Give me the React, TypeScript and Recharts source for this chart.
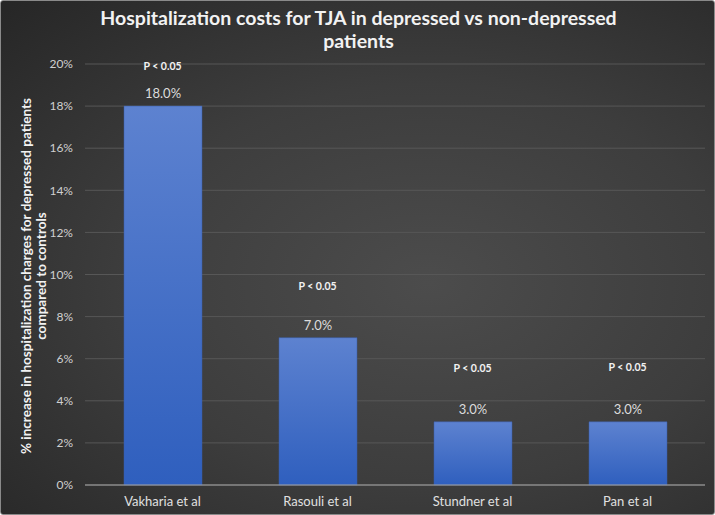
import React from "react";
import {
  ComposedChart,
  Bar,
  Line,
  XAxis,
  YAxis,
  CartesianGrid,
  LabelList,
} from "recharts";

const studies = ["Vakharia et al", "Rasouli et al", "Stundner et al", "Pan et al"];
const increases = [18, 7, 3, 3];
const pValues = ["P < 0.05", "P < 0.05", "P < 0.05", "P < 0.05"];
// where the hand placed P-value boxes sit, in % units
const pPositions = [19.9, 9.45, 5.55, 5.6];
const yTicks = [0, 2, 4, 6, 8, 10, 12, 14, 16, 18, 20];

const data = studies.map((name, i) => ({
  name,
  value: increases[i],
  pLabel: pValues[i],
  pPos: pPositions[i],
}));

const font = "Lato, 'Open Sans', sans-serif";

const App = () => {
  return (
    <div
      style={{
        position: "absolute",
        left: 0,
        top: 0,
        width: 715,
        height: 515,
        boxSizing: "border-box",
        border: "1px solid #8a8a8a",
        borderRadius: 3,
        background:
          "radial-gradient(ellipse at 60% 55%, #4c4c4c 0%, #3d3d3d 50%, #262626 100%)",
        fontFamily: font,
        overflow: "hidden",
      }}
    >
      <div
        style={{
          position: "absolute",
          left: 0,
          top: 5,
          width: 715,
          textAlign: "center",
          color: "#f2f2f2",
          fontWeight: 700,
          fontSize: 19.5,
          lineHeight: "23px",
        }}
      >
        Hospitalization costs for TJA in depressed vs non-depressed
        <br />
        patients
      </div>
      <div
        style={{
          position: "absolute",
          left: 33,
          top: 275,
          width: 440,
          transform: "translate(-50%, -50%) rotate(-90deg)",
          textAlign: "center",
          color: "#f2f2f2",
          fontWeight: 700,
          fontSize: 13.5,
          lineHeight: "15px",
        }}
      >
        % increase in hospitalization charges for depressed patients
        <br />
        compared to controls
      </div>
      <ComposedChart
        width={715}
        height={515}
        data={data}
        margin={{ top: 64, right: 10, bottom: 0, left: 0 }}
        style={{ position: "absolute", left: -1, top: -1 }}
      >
        <defs>
          <linearGradient id="barFill" x1="0" y1="0" x2="0" y2="1">
            <stop offset="0%" stopColor="#5d82d0" />
            <stop offset="100%" stopColor="#2f5fbe" />
          </linearGradient>
        </defs>
        <CartesianGrid vertical={false} stroke="#575757" />
        <XAxis
          dataKey="name"
          height={30}
          tickLine={false}
          axisLine={{ stroke: "#a6a6a6" }}
          tick={{ fill: "#e0e0e0", fontSize: 13, fontFamily: font }}
          tickMargin={6}
        />
        <YAxis
          width={85}
          domain={[0, 20]}
          ticks={yTicks}
          tickFormatter={(v: number) => `${v}%`}
          axisLine={false}
          tickLine={false}
          tick={{ fill: "#d0d0d0", fontSize: 12, fontFamily: font }}
          tickMargin={6}
        />
        <Bar
          dataKey="value"
          fill="url(#barFill)"
          stroke="#3a5ea8"
          strokeWidth={0.5}
          barSize={78}
          isAnimationActive={false}
        >
          <LabelList
            dataKey="value"
            position="top"
            offset={8}
            formatter={(v: number) => `${v.toFixed(1)}%`}
            style={{ fill: "#dcdcdc", fontSize: 13, fontFamily: font }}
          />
        </Bar>
        <Line
          dataKey="pPos"
          stroke="none"
          dot={false}
          activeDot={false}
          isAnimationActive={false}
        >
          <LabelList
            dataKey="pLabel"
            position="center"
            style={{ fill: "#f2f2f2", fontSize: 10.5, fontWeight: 700, fontFamily: font }}
          />
        </Line>
      </ComposedChart>
    </div>
  );
};

export default App;
